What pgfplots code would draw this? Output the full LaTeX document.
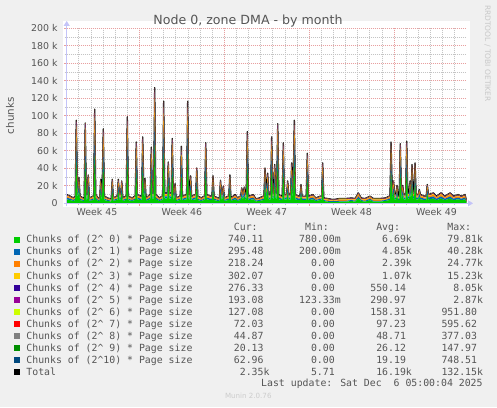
\documentclass[border=0pt]{standalone}
\usepackage{fontspec}
\setmainfont{DejaVu Sans}
\newfontfamily\legfont{DejaVu Sans Mono}
\usepackage{pgfplots}
\pgfplotsset{compat=1.18}
\usepackage{pgfplotstable}
\usetikzlibrary{arrows.meta}

\definecolor{bgcol}{HTML}{F0F0F0}
\definecolor{textcol}{HTML}{555555}
\definecolor{gridred}{HTML}{E8A0A0}
\definecolor{gridgray}{HTML}{C4C4C4}
\definecolor{axiscol}{HTML}{C4C4F8}
\definecolor{s0}{HTML}{00CC00}
\definecolor{s1}{HTML}{0066B3}
\definecolor{s2}{HTML}{FF8000}
\definecolor{s3}{HTML}{FFCC00}
\definecolor{s4}{HTML}{330099}
\definecolor{s5}{HTML}{990099}
\definecolor{s6}{HTML}{CCFF00}
\definecolor{s7}{HTML}{FF0000}
\definecolor{s8}{HTML}{808080}
\definecolor{s9}{HTML}{008F00}
\definecolor{s10}{HTML}{00487D}

\newlength\cw
\newcommand\legfnt{\legfont\fontsize{9.85}{12}\selectfont}
\newcommand\ns{\hspace*{\cw}}
\newcommand\lrow[5]{\makebox[29\cw][l]{#1}\makebox[12\cw][r]{#2}\makebox[12\cw][r]{#3}\makebox[12\cw][r]{#4}\makebox[12\cw][r]{#5}}
\newcommand\ch[1]{Chunks of (2\textasciicircum#1) * Page size}

\pgfplotstableread{
x c0 c1 c2 c3 c4 c5 c6 c7 c8 c9 c10 t
0.00 4.5 2.0 1.5 0.8 0.5 0.30 0.16 0.10 0.05 0.03 0.02 9.96
0.30 3.6 1.6 1.2 0.6 0.4 0.30 0.16 0.10 0.05 0.03 0.02 8.06
0.55 2.7 1.1 0.8 0.5 0.3 0.30 0.16 0.10 0.05 0.03 0.02 6.06
0.70 3.6 1.6 1.2 0.6 0.4 0.30 0.16 0.10 0.05 0.03 0.02 8.06
0.79 47.5 22.8 12.4 6.7 4.8 0.30 0.16 0.10 0.05 0.03 0.02 94.86
0.90 5.4 2.4 1.8 1.0 0.6 0.30 0.16 0.10 0.05 0.03 0.02 11.86
1.01 14.5 7.0 3.8 2.0 1.5 0.30 0.16 0.10 0.05 0.03 0.02 29.46
1.10 3.6 1.6 1.2 0.6 0.4 0.30 0.16 0.10 0.05 0.03 0.02 8.06
1.38 2.7 1.1 0.8 0.5 0.3 0.30 0.16 0.10 0.05 0.03 0.02 6.06
1.44 2.7 1.1 0.8 0.5 0.3 0.30 0.16 0.10 0.05 0.03 0.02 6.06
1.53 46.0 22.1 12.0 6.4 4.6 0.30 0.16 0.10 0.05 0.03 0.02 91.76
1.62 4.5 2.0 1.5 0.8 0.5 0.30 0.16 0.10 0.05 0.03 0.02 9.96
1.69 4.5 2.0 1.5 0.8 0.5 0.30 0.16 0.10 0.05 0.03 0.02 9.96
1.78 16.0 7.7 4.2 2.2 1.6 0.30 0.16 0.10 0.05 0.03 0.02 32.36
1.87 2.7 1.1 0.8 0.5 0.3 0.30 0.16 0.10 0.05 0.03 0.02 6.06
2.16 3.6 1.6 1.2 0.6 0.4 0.30 0.16 0.10 0.05 0.03 0.02 8.06
2.22 3.6 1.6 1.2 0.6 0.4 0.30 0.16 0.10 0.05 0.03 0.02 8.06
2.31 54.0 25.9 14.0 7.6 5.4 0.30 0.16 0.10 0.05 0.03 0.02 107.56
2.40 4.5 2.0 1.5 0.8 0.5 0.30 0.16 0.10 0.05 0.03 0.02 9.96
2.60 2.7 1.1 0.8 0.5 0.3 0.30 0.16 0.10 0.05 0.03 0.02 6.06
2.72 2.7 1.1 0.8 0.5 0.3 0.30 0.16 0.10 0.05 0.03 0.02 6.06
2.81 13.5 6.5 3.5 1.9 1.4 0.30 0.16 0.10 0.05 0.03 0.02 27.46
2.91 3.6 1.6 1.2 0.6 0.4 0.30 0.16 0.10 0.05 0.03 0.02 8.06
3.02 42.5 20.4 11.1 6.0 4.3 0.30 0.16 0.10 0.05 0.03 0.02 84.96
3.11 3.6 1.6 1.2 0.6 0.4 0.30 0.16 0.10 0.05 0.03 0.02 8.06
3.40 2.7 1.1 0.8 0.5 0.3 0.30 0.16 0.10 0.05 0.03 0.02 6.06
3.60 2.2 0.9 0.7 0.4 0.2 0.30 0.16 0.10 0.05 0.03 0.02 5.06
3.67 2.2 0.9 0.7 0.4 0.2 0.30 0.16 0.10 0.05 0.03 0.02 5.06
3.76 13.5 6.5 3.5 1.9 1.4 0.30 0.16 0.10 0.05 0.03 0.02 27.46
3.85 2.7 1.1 0.8 0.5 0.3 0.30 0.16 0.10 0.05 0.03 0.02 6.06
4.10 3.6 1.6 1.2 0.6 0.4 0.30 0.16 0.10 0.05 0.03 0.02 8.06
4.17 3.6 1.6 1.2 0.6 0.4 0.30 0.16 0.10 0.05 0.03 0.02 8.06
4.26 13.5 6.5 3.5 1.9 1.4 0.30 0.16 0.10 0.05 0.03 0.02 27.46
4.35 4.5 2.0 1.5 0.8 0.5 0.30 0.16 0.10 0.05 0.03 0.02 9.96
4.45 4.5 2.0 1.5 0.8 0.5 0.30 0.16 0.10 0.05 0.03 0.02 9.96
4.54 12.5 6.0 3.3 1.8 1.3 0.30 0.16 0.10 0.05 0.03 0.02 25.56
4.63 2.7 1.1 0.8 0.5 0.3 0.30 0.16 0.10 0.05 0.03 0.02 6.06
4.85 3.6 1.6 1.2 0.6 0.4 0.30 0.16 0.10 0.05 0.03 0.02 8.06
4.91 3.6 1.6 1.2 0.6 0.4 0.30 0.16 0.10 0.05 0.03 0.02 8.06
5.00 49.5 23.8 12.9 6.9 5.0 0.30 0.16 0.10 0.05 0.03 0.02 98.76
5.09 3.6 1.6 1.2 0.6 0.4 0.30 0.16 0.10 0.05 0.03 0.02 8.06
5.40 2.7 1.1 0.8 0.5 0.3 0.30 0.16 0.10 0.05 0.03 0.02 6.06
5.60 3.6 1.6 1.2 0.6 0.4 0.30 0.16 0.10 0.05 0.03 0.02 8.06
5.65 3.6 1.6 1.2 0.6 0.4 0.30 0.16 0.10 0.05 0.03 0.02 8.06
5.74 35.0 16.8 9.1 4.9 3.5 0.30 0.16 0.10 0.05 0.03 0.02 69.96
5.83 4.5 2.0 1.5 0.8 0.5 0.30 0.16 0.10 0.05 0.03 0.02 9.96
6.12 3.6 1.6 1.2 0.6 0.4 0.30 0.16 0.10 0.05 0.03 0.02 8.06
6.18 3.6 1.6 1.2 0.6 0.4 0.30 0.16 0.10 0.05 0.03 0.02 8.06
6.27 38.0 18.2 9.9 5.3 3.8 0.30 0.16 0.10 0.05 0.03 0.02 75.86
6.37 5.4 2.4 1.8 1.0 0.6 0.30 0.16 0.10 0.05 0.03 0.02 11.86
6.46 14.0 6.7 3.6 2.0 1.4 0.30 0.16 0.10 0.05 0.03 0.02 28.36
6.55 2.7 1.1 0.8 0.5 0.3 0.30 0.16 0.10 0.05 0.03 0.02 6.06
6.85 4.5 2.0 1.5 0.8 0.5 0.30 0.16 0.10 0.05 0.03 0.02 9.96
6.89 4.5 2.0 1.5 0.8 0.5 0.30 0.16 0.10 0.05 0.03 0.02 9.96
6.98 32.0 15.4 8.3 4.5 3.2 0.30 0.16 0.10 0.05 0.03 0.02 64.06
7.07 5.4 2.4 1.8 1.0 0.6 0.30 0.16 0.10 0.05 0.03 0.02 11.86
7.17 5.4 2.4 1.8 1.0 0.6 0.30 0.16 0.10 0.05 0.03 0.02 11.86
7.26 67.3 31.4 17.0 9.2 6.6 0.30 0.16 0.10 0.05 0.03 0.02 132.16
7.35 4.5 2.0 1.5 0.8 0.5 0.30 0.16 0.10 0.05 0.03 0.02 9.96
7.65 2.7 1.1 0.8 0.5 0.3 0.30 0.16 0.10 0.05 0.03 0.02 6.06
7.86 3.6 1.6 1.2 0.6 0.4 0.30 0.16 0.10 0.05 0.03 0.02 8.06
7.91 3.6 1.6 1.2 0.6 0.4 0.30 0.16 0.10 0.05 0.03 0.02 8.06
8.00 58.5 28.1 15.2 8.2 5.9 0.30 0.16 0.10 0.05 0.03 0.02 116.56
8.09 5.4 2.4 1.8 1.0 0.6 0.30 0.16 0.10 0.05 0.03 0.02 11.86
8.29 5.4 2.4 1.8 1.0 0.6 0.30 0.16 0.10 0.05 0.03 0.02 11.86
8.38 23.5 11.3 6.1 3.3 2.4 0.30 0.16 0.10 0.05 0.03 0.02 47.26
8.47 5.4 2.4 1.8 1.0 0.6 0.30 0.16 0.10 0.05 0.03 0.02 11.86
8.62 5.4 2.4 1.8 1.0 0.6 0.30 0.16 0.10 0.05 0.03 0.02 11.86
8.71 37.0 17.8 9.6 5.2 3.7 0.30 0.16 0.10 0.05 0.03 0.02 73.96
8.80 4.5 2.0 1.5 0.8 0.5 0.30 0.16 0.10 0.05 0.03 0.02 9.96
8.85 4.5 2.0 1.5 0.8 0.5 0.30 0.16 0.10 0.05 0.03 0.02 9.96
8.94 11.0 5.3 2.9 1.5 1.1 0.30 0.16 0.10 0.05 0.03 0.02 22.46
9.03 2.7 1.1 0.8 0.5 0.3 0.30 0.16 0.10 0.05 0.03 0.02 6.06
9.32 3.6 1.6 1.2 0.6 0.4 0.30 0.16 0.10 0.05 0.03 0.02 8.06
9.37 3.6 1.6 1.2 0.6 0.4 0.30 0.16 0.10 0.05 0.03 0.02 8.06
9.46 32.5 15.6 8.5 4.6 3.3 0.30 0.16 0.10 0.05 0.03 0.02 65.16
9.55 3.6 1.6 1.2 0.6 0.4 0.30 0.16 0.10 0.05 0.03 0.02 8.06
9.84 4.5 2.0 1.5 0.8 0.5 0.30 0.16 0.10 0.05 0.03 0.02 9.96
9.89 4.5 2.0 1.5 0.8 0.5 0.30 0.16 0.10 0.05 0.03 0.02 9.96
9.98 58.5 28.1 15.2 8.2 5.9 0.30 0.16 0.10 0.05 0.03 0.02 116.56
10.07 4.5 2.0 1.5 0.8 0.5 0.30 0.16 0.10 0.05 0.03 0.02 9.96
10.13 4.5 2.0 1.5 0.8 0.5 0.30 0.16 0.10 0.05 0.03 0.02 9.96
10.22 15.5 7.4 4.0 2.2 1.6 0.30 0.16 0.10 0.05 0.03 0.02 31.36
10.31 3.6 1.6 1.2 0.6 0.4 0.30 0.16 0.10 0.05 0.03 0.02 8.06
10.58 4.5 2.0 1.5 0.8 0.5 0.30 0.16 0.10 0.05 0.03 0.02 9.96
10.64 4.5 2.0 1.5 0.8 0.5 0.30 0.16 0.10 0.05 0.03 0.02 9.96
10.73 20.0 9.6 5.2 2.8 2.0 0.30 0.16 0.10 0.05 0.03 0.02 40.26
10.82 3.6 1.6 1.2 0.6 0.4 0.30 0.16 0.10 0.05 0.03 0.02 8.06
11.10 2.7 1.1 0.8 0.5 0.3 0.30 0.16 0.10 0.05 0.03 0.02 6.06
11.32 3.6 1.6 1.2 0.6 0.4 0.30 0.16 0.10 0.05 0.03 0.02 8.06
11.38 3.6 1.6 1.2 0.6 0.4 0.30 0.16 0.10 0.05 0.03 0.02 8.06
11.47 34.5 16.6 9.0 4.8 3.5 0.30 0.16 0.10 0.05 0.03 0.02 69.06
11.56 4.5 2.0 1.5 0.8 0.5 0.30 0.16 0.10 0.05 0.03 0.02 9.96
11.90 3.6 1.6 1.2 0.6 0.4 0.30 0.16 0.10 0.05 0.03 0.02 8.06
11.98 3.6 1.6 1.2 0.6 0.4 0.30 0.16 0.10 0.05 0.03 0.02 8.06
12.07 15.5 7.4 4.0 2.2 1.6 0.30 0.16 0.10 0.05 0.03 0.02 31.36
12.16 3.6 1.6 1.2 0.6 0.4 0.30 0.16 0.10 0.05 0.03 0.02 8.06
12.50 2.7 1.1 0.8 0.5 0.3 0.30 0.16 0.10 0.05 0.03 0.02 6.06
12.60 2.7 1.1 0.8 0.5 0.3 0.30 0.16 0.10 0.05 0.03 0.02 6.06
12.69 13.0 6.2 3.4 1.8 1.3 0.30 0.16 0.10 0.05 0.03 0.02 26.36
12.78 4.5 2.0 1.5 0.8 0.5 0.30 0.16 0.10 0.05 0.03 0.02 9.96
12.83 4.5 2.0 1.5 0.8 0.5 0.30 0.16 0.10 0.05 0.03 0.02 9.96
12.92 9.5 4.6 2.5 1.3 1.0 0.30 0.16 0.10 0.05 0.03 0.02 19.56
13.01 2.7 1.1 0.8 0.5 0.3 0.30 0.16 0.10 0.05 0.03 0.02 6.06
13.30 3.6 1.6 1.2 0.6 0.4 0.30 0.16 0.10 0.05 0.03 0.02 8.06
13.37 3.6 1.6 1.2 0.6 0.4 0.30 0.16 0.10 0.05 0.03 0.02 8.06
13.46 16.0 7.7 4.2 2.2 1.6 0.30 0.16 0.10 0.05 0.03 0.02 32.36
13.55 2.7 1.1 0.8 0.5 0.3 0.30 0.16 0.10 0.05 0.03 0.02 6.06
13.89 4.5 2.0 1.5 0.8 0.5 0.30 0.16 0.10 0.05 0.03 0.02 9.96
14.10 2.7 1.1 0.8 0.5 0.3 0.30 0.16 0.10 0.05 0.03 0.02 6.06
14.30 3.6 1.6 1.2 0.6 0.4 0.30 0.16 0.10 0.05 0.03 0.02 8.06
14.35 3.6 1.6 1.2 0.6 0.4 0.30 0.16 0.10 0.05 0.03 0.02 8.06
14.44 8.5 4.1 2.2 1.2 0.9 0.30 0.16 0.10 0.05 0.03 0.02 17.56
14.54 4.5 2.0 1.5 0.8 0.5 0.30 0.16 0.10 0.05 0.03 0.02 9.96
14.65 9.0 4.3 2.3 1.3 0.9 0.30 0.16 0.10 0.05 0.03 0.02 18.46
14.74 4.5 2.0 1.5 0.8 0.5 0.30 0.16 0.10 0.05 0.03 0.02 9.96
14.81 4.5 2.0 1.5 0.8 0.5 0.30 0.16 0.10 0.05 0.03 0.02 9.96
14.90 41.0 19.7 10.7 5.7 4.1 0.30 0.16 0.10 0.05 0.03 0.02 81.86
14.99 3.6 1.6 1.2 0.6 0.4 0.30 0.16 0.10 0.05 0.03 0.02 8.06
15.40 4.5 2.0 1.5 0.8 0.5 0.30 0.16 0.10 0.05 0.03 0.02 9.96
15.60 2.2 0.9 0.7 0.4 0.2 0.30 0.16 0.10 0.05 0.03 0.02 5.06
15.90 2.7 1.1 0.8 0.5 0.3 0.30 0.16 0.10 0.05 0.03 0.02 6.06
16.20 3.6 1.6 1.2 0.6 0.4 0.30 0.16 0.10 0.05 0.03 0.02 8.06
16.27 3.6 1.6 1.2 0.6 0.4 0.30 0.16 0.10 0.05 0.03 0.02 8.06
16.36 20.0 9.6 5.2 2.8 2.0 0.30 0.16 0.10 0.05 0.03 0.02 40.26
16.47 5.4 2.4 1.8 1.0 0.6 0.30 0.16 0.10 0.05 0.03 0.02 11.86
16.58 17.0 8.2 4.4 2.4 1.7 0.30 0.16 0.10 0.05 0.03 0.02 34.36
16.67 4.5 2.0 1.5 0.8 0.5 0.30 0.16 0.10 0.05 0.03 0.02 9.96
16.82 4.5 2.0 1.5 0.8 0.5 0.30 0.16 0.10 0.05 0.03 0.02 9.96
16.91 38.0 18.2 9.9 5.3 3.8 0.30 0.16 0.10 0.05 0.03 0.02 75.86
17.00 5.4 2.4 1.8 1.0 0.6 0.30 0.16 0.10 0.05 0.03 0.02 11.86
17.07 5.4 2.4 1.8 1.0 0.6 0.30 0.16 0.10 0.05 0.03 0.02 11.86
17.16 22.0 10.6 5.7 3.1 2.2 0.30 0.16 0.10 0.05 0.03 0.02 44.26
17.25 5.4 2.4 1.8 1.0 0.6 0.30 0.16 0.10 0.05 0.03 0.02 11.86
17.32 5.4 2.4 1.8 1.0 0.6 0.30 0.16 0.10 0.05 0.03 0.02 11.86
17.41 45.5 21.8 11.8 6.4 4.6 0.30 0.16 0.10 0.05 0.03 0.02 90.76
17.50 4.5 2.0 1.5 0.8 0.5 0.30 0.16 0.10 0.05 0.03 0.02 9.96
17.75 3.6 1.6 1.2 0.6 0.4 0.30 0.16 0.10 0.05 0.03 0.02 8.06
17.78 3.6 1.6 1.2 0.6 0.4 0.30 0.16 0.10 0.05 0.03 0.02 8.06
17.87 34.5 16.6 9.0 4.8 3.5 0.30 0.16 0.10 0.05 0.03 0.02 69.06
17.96 4.5 2.0 1.5 0.8 0.5 0.30 0.16 0.10 0.05 0.03 0.02 9.96
18.14 4.5 2.0 1.5 0.8 0.5 0.30 0.16 0.10 0.05 0.03 0.02 9.96
18.23 12.5 6.0 3.3 1.8 1.3 0.30 0.16 0.10 0.05 0.03 0.02 25.56
18.32 4.5 2.0 1.5 0.8 0.5 0.30 0.16 0.10 0.05 0.03 0.02 9.96
18.47 4.5 2.0 1.5 0.8 0.5 0.30 0.16 0.10 0.05 0.03 0.02 9.96
18.56 23.0 11.0 6.0 3.2 2.3 0.30 0.16 0.10 0.05 0.03 0.02 46.16
18.67 5.4 2.4 1.8 1.0 0.6 0.30 0.16 0.10 0.05 0.03 0.02 11.86
18.78 47.5 22.8 12.4 6.7 4.8 0.30 0.16 0.10 0.05 0.03 0.02 94.86
18.87 4.5 2.0 1.5 0.8 0.5 0.30 0.16 0.10 0.05 0.03 0.02 9.96
19.15 3.6 1.6 1.2 0.6 0.4 0.30 0.16 0.10 0.05 0.03 0.02 8.06
19.24 3.6 1.6 1.2 0.6 0.4 0.30 0.16 0.10 0.05 0.03 0.02 8.06
19.33 10.5 5.0 2.7 1.5 1.1 0.30 0.16 0.10 0.05 0.03 0.02 21.46
19.42 3.6 1.6 1.2 0.6 0.4 0.30 0.16 0.10 0.05 0.03 0.02 8.06
19.70 3.6 1.6 1.2 0.6 0.4 0.30 0.16 0.10 0.05 0.03 0.02 8.06
19.76 3.6 1.6 1.2 0.6 0.4 0.30 0.16 0.10 0.05 0.03 0.02 8.06
19.85 28.5 13.7 7.4 4.0 2.9 0.30 0.16 0.10 0.05 0.03 0.02 57.16
19.94 3.6 1.6 1.2 0.6 0.4 0.30 0.16 0.10 0.05 0.03 0.02 8.06
20.30 4.5 2.0 1.5 0.8 0.5 0.30 0.16 0.10 0.05 0.03 0.02 9.96
20.55 2.7 1.1 0.8 0.5 0.3 0.30 0.16 0.10 0.05 0.03 0.02 6.06
20.90 3.6 1.6 1.2 0.6 0.4 0.30 0.16 0.10 0.05 0.03 0.02 8.06
21.03 3.6 1.6 1.2 0.6 0.4 0.30 0.16 0.10 0.05 0.03 0.02 8.06
21.12 23.0 11.0 6.0 3.2 2.3 0.30 0.16 0.10 0.05 0.03 0.02 46.16
21.21 2.7 1.1 0.8 0.5 0.3 0.30 0.16 0.10 0.05 0.03 0.02 6.06
21.50 1.8 0.9 1.0 0.8 0.3 0.30 0.16 0.10 0.05 0.03 0.02 5.46
22.00 1.6 0.8 0.6 0.4 0.2 0.30 0.16 0.10 0.05 0.03 0.02 4.26
22.50 1.8 0.9 1.0 0.8 0.3 0.30 0.16 0.10 0.05 0.03 0.02 5.46
23.00 1.8 0.9 1.0 0.8 0.3 0.30 0.16 0.10 0.05 0.03 0.02 5.46
23.50 2.7 1.1 0.8 0.5 0.3 0.30 0.16 0.10 0.05 0.03 0.02 6.06
23.80 1.8 0.9 1.0 0.8 0.3 0.30 0.16 0.10 0.05 0.03 0.02 5.46
24.06 5.4 2.4 1.8 1.0 0.6 0.30 0.16 0.10 0.05 0.03 0.02 11.86
24.30 2.7 1.1 0.8 0.5 0.3 0.30 0.16 0.10 0.05 0.03 0.02 6.06
24.60 1.8 0.9 1.0 0.8 0.3 0.30 0.16 0.10 0.05 0.03 0.02 5.46
25.02 3.6 1.6 1.2 0.6 0.4 0.30 0.16 0.10 0.05 0.03 0.02 8.06
25.30 1.8 0.9 1.0 0.8 0.3 0.30 0.16 0.10 0.05 0.03 0.02 5.46
25.80 1.8 0.9 1.0 0.8 0.3 0.30 0.16 0.10 0.05 0.03 0.02 5.46
26.30 2.7 1.1 0.8 0.5 0.3 0.30 0.16 0.10 0.05 0.03 0.02 6.06
26.60 3.6 1.6 1.2 0.6 0.4 0.30 0.16 0.10 0.05 0.03 0.02 8.06
26.67 3.6 1.6 1.2 0.6 0.4 0.30 0.16 0.10 0.05 0.03 0.02 8.06
26.76 35.0 16.8 9.1 4.9 3.5 0.30 0.16 0.10 0.05 0.03 0.02 69.96
26.86 5.4 2.4 1.8 1.0 0.6 0.30 0.16 0.10 0.05 0.03 0.02 11.86
26.96 12.5 6.0 3.3 1.8 1.3 0.30 0.16 0.10 0.05 0.03 0.02 25.56
27.06 4.5 2.0 1.5 0.8 0.5 0.30 0.16 0.10 0.05 0.03 0.02 9.96
27.16 4.5 2.0 1.5 0.8 0.5 0.30 0.16 0.10 0.05 0.03 0.02 9.96
27.25 10.0 4.8 2.6 1.4 1.0 0.30 0.16 0.10 0.05 0.03 0.02 20.46
27.34 3.6 1.6 1.2 0.6 0.4 0.30 0.16 0.10 0.05 0.03 0.02 8.06
27.43 3.6 1.6 1.2 0.6 0.4 0.30 0.16 0.10 0.05 0.03 0.02 8.06
27.52 34.0 16.3 8.8 4.8 3.4 0.30 0.16 0.10 0.05 0.03 0.02 67.96
27.62 4.5 2.0 1.5 0.8 0.5 0.30 0.16 0.10 0.05 0.03 0.02 9.96
27.72 10.0 4.8 2.6 1.4 1.0 0.30 0.16 0.10 0.05 0.03 0.02 20.46
27.81 4.5 2.0 1.5 0.8 0.5 0.30 0.16 0.10 0.05 0.03 0.02 9.96
27.96 4.5 2.0 1.5 0.8 0.5 0.30 0.16 0.10 0.05 0.03 0.02 9.96
28.05 35.5 17.0 9.2 5.0 3.6 0.30 0.16 0.10 0.05 0.03 0.02 70.96
28.14 5.4 2.4 1.8 1.0 0.6 0.30 0.16 0.10 0.05 0.03 0.02 11.86
28.24 5.4 2.4 1.8 1.0 0.6 0.30 0.16 0.10 0.05 0.03 0.02 11.86
28.33 12.5 6.0 3.3 1.8 1.3 0.30 0.16 0.10 0.05 0.03 0.02 25.56
28.41 5.4 2.4 1.8 1.0 0.6 0.30 0.16 0.10 0.05 0.03 0.02 11.86
28.49 22.0 10.6 5.7 3.1 2.2 0.30 0.16 0.10 0.05 0.03 0.02 44.26
28.58 5.4 2.4 1.8 1.0 0.6 0.30 0.16 0.10 0.05 0.03 0.02 11.86
28.65 5.4 2.4 1.8 1.0 0.6 0.30 0.16 0.10 0.05 0.03 0.02 11.86
28.74 23.0 11.0 6.0 3.2 2.3 0.30 0.16 0.10 0.05 0.03 0.02 46.16
28.83 4.5 2.0 1.5 0.8 0.5 0.30 0.16 0.10 0.05 0.03 0.02 9.96
29.00 4.5 2.0 1.5 0.8 0.5 0.30 0.16 0.10 0.05 0.03 0.02 9.96
29.09 7.5 3.6 2.0 1.1 0.8 0.30 0.16 0.10 0.05 0.03 0.02 15.66
29.18 4.5 2.0 1.5 0.8 0.5 0.30 0.16 0.10 0.05 0.03 0.02 9.96
29.55 3.6 1.6 1.2 0.6 0.4 0.30 0.16 0.10 0.05 0.03 0.02 8.06
29.66 3.6 1.6 1.2 0.6 0.4 0.30 0.16 0.10 0.05 0.03 0.02 8.06
29.75 10.5 5.0 2.7 1.5 1.1 0.30 0.16 0.10 0.05 0.03 0.02 21.46
29.84 4.5 2.0 1.5 0.8 0.5 0.30 0.16 0.10 0.05 0.03 0.02 9.96
30.25 5.4 2.4 1.8 1.0 0.6 0.30 0.16 0.10 0.05 0.03 0.02 11.86
30.50 3.6 1.6 1.2 0.6 0.4 0.30 0.16 0.10 0.05 0.03 0.02 8.06
30.88 5.4 2.4 1.8 1.0 0.6 0.30 0.16 0.10 0.05 0.03 0.02 11.86
31.20 3.6 1.6 1.2 0.6 0.4 0.30 0.16 0.10 0.05 0.03 0.02 8.06
31.63 5.4 2.4 1.8 1.0 0.6 0.30 0.16 0.10 0.05 0.03 0.02 11.86
31.90 3.6 1.6 1.2 0.6 0.4 0.30 0.16 0.10 0.05 0.03 0.02 8.06
32.29 4.5 2.0 1.5 0.8 0.5 0.30 0.16 0.10 0.05 0.03 0.02 9.96
32.55 3.6 1.6 1.2 0.6 0.4 0.30 0.16 0.10 0.05 0.03 0.02 8.06
32.86 4.5 2.0 1.5 0.8 0.5 0.30 0.16 0.10 0.05 0.03 0.02 9.96
33.00 0.74 0.30 0.22 0.30 0.28 0.19 0.13 0.07 0.04 0.02 0.06 2.35
}\datatable

\begin{document}
\settowidth{\cw}{\legfnt 0}%
\begin{tikzpicture}
\path[use as bounding box, fill=bgcol] (0pt,0pt) rectangle (497pt,407pt);
\fill[white] (63pt,200pt) rectangle (470pt,386pt);
\begin{axis}[
  at={(66.7pt,203.7pt)}, anchor=south west,
  scale only axis, width=400pt, height=175pt,
  xmin=0, xmax=33, ymin=0, ymax=200,
  stack plots=y,
  axis lines=left,
  axis line style={draw=none},
  xtick={6,13,20,27}, xticklabels={},
  minor xtick={1,...,32},
  extra x ticks={2.5,9.5,16.5,23.5,30.5},
  extra x tick labels={Week 45,Week 46,Week 47,Week 48,Week 49},
  extra x tick style={grid=none, major tick length=0pt,
     xticklabel style={anchor=base, inner sep=0pt, yshift=-12.5pt}},
  ytick={0,20,...,200},
  yticklabels={0\hspace{6.7pt},20 k,40 k,60 k,80 k,100 k,120 k,140 k,160 k,180 k,200 k},
  minor ytick={10,30,...,190},
  yticklabel style={anchor=east, inner sep=0pt, xshift=-6.5pt},
  tick label style={font=\fontsize{9.4}{11}\selectfont, text=textcol},
  grid=both,
  major grid style={draw=gridred, dash pattern=on 1pt off 1pt, line width=0.7pt},
  minor grid style={draw=gridgray, dash pattern=on 1pt off 1pt, line width=0.7pt},
  tick align=outside,
  major tick length=2.5pt, minor tick length=2pt,
  major tick style={draw=gridred, line width=0.7pt},
  minor tick style={draw=gridgray, line width=0.7pt},
  ylabel={chunks},
  ylabel style={at={(axis description cs:-0.1418,0.5)}, anchor=center,
     font=\fontsize{10.3}{12}\selectfont, text=textcol},
]
\addplot[draw=none, fill=s0] table[x=x,y=c0]{\datatable} \closedcycle;
\addplot[draw=none, fill=s1] table[x=x,y=c1]{\datatable} \closedcycle;
\addplot[draw=none, fill=s2] table[x=x,y=c2]{\datatable} \closedcycle;
\addplot[draw=none, fill=s3] table[x=x,y=c3]{\datatable} \closedcycle;
\addplot[draw=none, fill=s4] table[x=x,y=c4]{\datatable} \closedcycle;
\addplot[draw=none, fill=s5] table[x=x,y=c5]{\datatable} \closedcycle;
\addplot[draw=none, fill=s6] table[x=x,y=c6]{\datatable} \closedcycle;
\addplot[draw=none, fill=s7] table[x=x,y=c7]{\datatable} \closedcycle;
\addplot[draw=none, fill=s8] table[x=x,y=c8]{\datatable} \closedcycle;
\addplot[draw=none, fill=s9] table[x=x,y=c9]{\datatable} \closedcycle;
\addplot[draw=none, fill=s10] table[x=x,y=c10]{\datatable} \closedcycle;
\addplot[stack plots=false, black, line width=1.3pt, line join=round] table[x=x,y=t]{\datatable};
\end{axis}
% axis arrows
\draw[axiscol, line width=0.9pt, -{Triangle[length=5pt,width=6pt]}] (63.5pt,203.7pt) -- (473pt,203.7pt);
\draw[axiscol, line width=0.9pt, -{Triangle[length=5pt,width=6pt]}] (66.7pt,200.5pt) -- (66.7pt,386pt);
% title
\node[anchor=base, inner sep=0pt, font=\fontsize{12.6}{15}\selectfont, text=textcol] at (248pt,382.5pt) {Node 0, zone DMA - by month};
\node[anchor=center, inner sep=0pt, rotate=-90, font=\fontsize{7.5}{9}\selectfont, text={rgb,255:red,200;green,200;blue,200}] at (487.5pt,353.5pt) {RRDTOOL / TOBI OETIKER};
% legend
\begin{scope}[every node/.style={anchor=base west, inner sep=0pt, font=\legfnt, text=textcol}]
\node at (26.2pt,176.1pt) {\hspace*{35\cw}Cur:\hspace*{8\cw}Min:\hspace*{8\cw}Avg:\hspace*{8\cw}Max:};
\node at (26.2pt,164.10pt) {\lrow{\ch{\ns0}}{740.11\ns}{780.00m}{6.69k}{79.81k}};
\node at (26.2pt,152.06pt) {\lrow{\ch{\ns1}}{295.48\ns}{200.00m}{4.85k}{40.28k}};
\node at (26.2pt,140.02pt) {\lrow{\ch{\ns2}}{218.24\ns}{0.00\ns}{2.39k}{24.77k}};
\node at (26.2pt,127.98pt) {\lrow{\ch{\ns3}}{302.07\ns}{0.00\ns}{1.07k}{15.23k}};
\node at (26.2pt,115.94pt) {\lrow{\ch{\ns4}}{276.33\ns}{0.00\ns}{550.14\ns}{8.05k}};
\node at (26.2pt,103.90pt) {\lrow{\ch{\ns5}}{193.08\ns}{123.33m}{290.97\ns}{2.87k}};
\node at (26.2pt,91.86pt) {\lrow{\ch{\ns6}}{127.08\ns}{0.00\ns}{158.31\ns}{951.80\ns}};
\node at (26.2pt,79.82pt) {\lrow{\ch{\ns7}}{72.03\ns}{0.00\ns}{97.23\ns}{595.62\ns}};
\node at (26.2pt,67.78pt) {\lrow{\ch{\ns8}}{44.87\ns}{0.00\ns}{48.71\ns}{377.03\ns}};
\node at (26.2pt,55.74pt) {\lrow{\ch{\ns9}}{20.13\ns}{0.00\ns}{26.12\ns}{147.97\ns}};
\node at (26.2pt,43.70pt) {\lrow{\ch{10}}{62.96\ns}{0.00\ns}{19.19\ns}{748.51\ns}};
\node at (26.2pt,31.66pt) {\lrow{Total}{2.35k}{5.71\ns}{16.19k}{132.15k}};
\node[anchor=base east] at (482.8pt,20.1pt) {Last update: Sat Dec\ns\ns6 05:00:04 2025};
\end{scope}
\fill[s0] (14pt,164.3pt) rectangle (20pt,170.3pt);
\fill[s1] (14pt,152.26pt) rectangle (20pt,158.26pt);
\fill[s2] (14pt,140.22pt) rectangle (20pt,146.22pt);
\fill[s3] (14pt,128.18pt) rectangle (20pt,134.18pt);
\fill[s4] (14pt,116.14pt) rectangle (20pt,122.14pt);
\fill[s5] (14pt,104.10pt) rectangle (20pt,110.10pt);
\fill[s6] (14pt,92.06pt) rectangle (20pt,98.06pt);
\fill[s7] (14pt,80.02pt) rectangle (20pt,86.02pt);
\fill[s8] (14pt,67.98pt) rectangle (20pt,73.98pt);
\fill[s9] (14pt,55.94pt) rectangle (20pt,61.94pt);
\fill[s10] (14pt,43.90pt) rectangle (20pt,49.90pt);
\fill[black] (14pt,31.86pt) rectangle (20pt,37.86pt);
\node[anchor=base, inner sep=0pt, font=\fontsize{7.1}{9}\selectfont, text={rgb,255:red,204;green,204;blue,204}] at (248.3pt,8.5pt) {Munin 2.0.76};
\end{tikzpicture}
\end{document}
